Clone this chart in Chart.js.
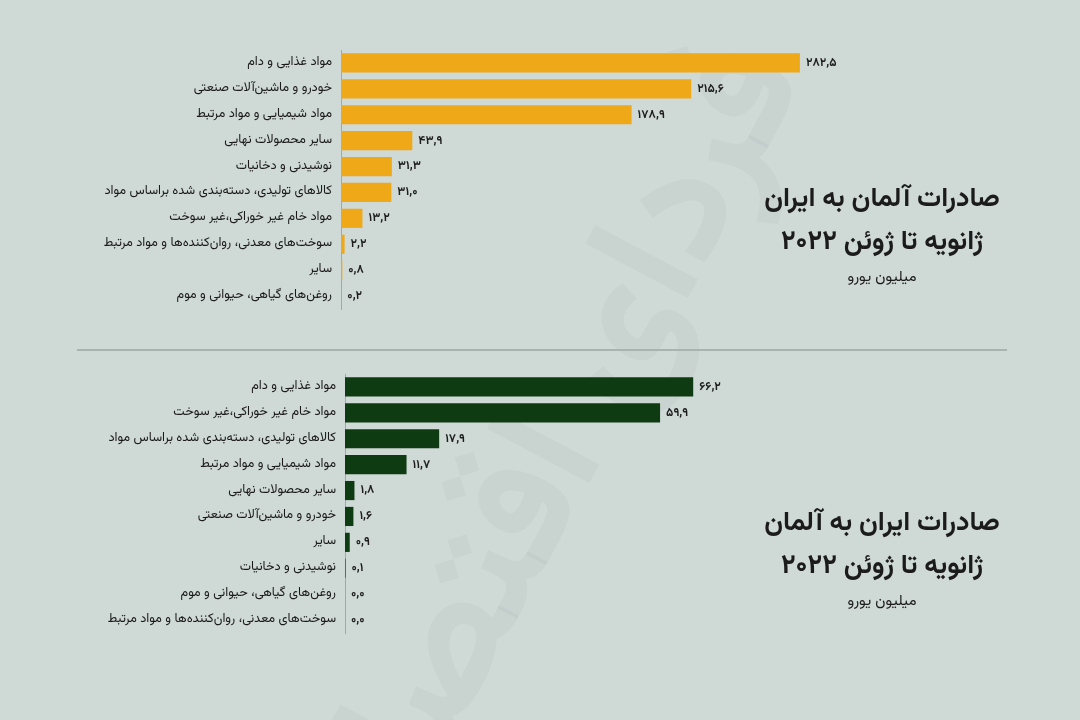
<!DOCTYPE html>
<html lang="fa">
<head>
<meta charset="utf-8">
<script src="https://cdn.jsdelivr.net/npm/chart.js@4.4.1/dist/chart.umd.min.js"></script>
<style>
  html, body { margin: 0; padding: 0; }
  body {
    width: 1080px; height: 720px; position: relative; overflow: hidden;
    background: #cfd9d6;
    font-family: 'Vazirmatn', 'Noto Sans Arabic', 'DejaVu Sans', sans-serif;
  }
  .chart-box { position: absolute; left: 0; width: 1080px; }
  #box-top { top: 1px; height: 350px; }
  #box-bottom { top: 351px; height: 369px; }
  .divider { position: absolute; left: 77px; top: 349px; width: 930px; height: 2px; background: #a9b4b0; }
  .title { position: absolute; width: 300px; text-align: center; direction: rtl; color: #1b1b1b; }
  .title .t1 { font-size: 27px; font-weight: bold; line-height: 43px; }
  .title .t2 { font-size: 15px; line-height: 24px; margin-top: 2px; }
  .watermark {
    position: absolute; left: 560px; top: 450px; font-size: 170px; font-weight: bold;
    color: rgba(80, 100, 95, 0.045); transform: translate(-50%, -50%) rotate(-62deg);
    direction: rtl; white-space: nowrap;
  }
</style>
</head>
<body>
<div class="watermark">فردای اقتصاد</div>
<div class="chart-box" id="box-top"><canvas id="topChart"></canvas></div>
<div class="chart-box" id="box-bottom"><canvas id="bottomChart"></canvas></div>
<div class="divider"></div>

<div class="title" style="left:732px; top:178px;">
  <div class="t1">صادرات آلمان به ایران</div>
  <div class="t1">ژانویه تا ژوئن ۲۰۲۲</div>
  <div class="t2">میلیون یورو</div>
</div>
<div class="title" style="left:732px; top:502px;">
  <div class="t1">صادرات ایران به آلمان</div>
  <div class="t1">ژانویه تا ژوئن ۲۰۲۲</div>
  <div class="t2">میلیون یورو</div>
</div>

<script>
// Germany -> Iran, Jan-Jun 2022 (million EUR)
const deCategories = [
  'مواد غذایی و دام',
  'خودرو و ماشین‌آلات صنعتی',
  'مواد شیمیایی و مواد مرتبط',
  'سایر محصولات نهایی',
  'نوشیدنی و دخانیات',
  'کالاهای تولیدی، دسته‌بندی شده براساس مواد',
  'مواد خام غیر خوراکی،غیر سوخت',
  'سوخت‌های معدنی، روان‌کننده‌ها و مواد مرتبط',
  'سایر',
  'روغن‌های گیاهی، حیوانی و موم'
];
const deValues = [282.5, 215.6, 178.9, 43.9, 31.3, 31.0, 13.2, 2.2, 0.8, 0.2];

// Iran -> Germany, Jan-Jun 2022 (million EUR)
const irCategories = [
  'مواد غذایی و دام',
  'مواد خام غیر خوراکی،غیر سوخت',
  'کالاهای تولیدی، دسته‌بندی شده براساس مواد',
  'مواد شیمیایی و مواد مرتبط',
  'سایر محصولات نهایی',
  'خودرو و ماشین‌آلات صنعتی',
  'سایر',
  'نوشیدنی و دخانیات',
  'روغن‌های گیاهی، حیوانی و موم',
  'سوخت‌های معدنی، روان‌کننده‌ها و مواد مرتبط'
];
const irValues = [66.2, 59.9, 17.9, 11.7, 1.8, 1.6, 0.9, 0.1, 0.0, 0.0];

const FONT = "'Vazirmatn', 'Noto Sans Arabic', 'DejaVu Sans', sans-serif";
const faDigits = '۰۱۲۳۴۵۶۷۸۹';
function toFa(v) {
  return v.toFixed(1).replace(/\d/g, d => faDigits[d]).replace('.', ',');
}

// draws the value right after each bar end
const valueLabels = {
  id: 'valueLabels',
  afterDatasetsDraw(chart) {
    const ctx = chart.ctx;
    const meta = chart.getDatasetMeta(0);
    ctx.save();
    ctx.font = 'bold 12px ' + FONT;
    ctx.fillStyle = '#1e1e1e';
    ctx.textAlign = 'left';
    ctx.textBaseline = 'middle';
    meta.data.forEach((bar, i) => {
      const v = chart.data.datasets[0].data[i];
      ctx.fillText(toFa(v), bar.x + 6, bar.y + 1);
    });
    ctx.restore();
  }
};

function makeChart(id, labels, values, color, xMax, pad) {
  const ctx = document.getElementById(id).getContext('2d');
  return new Chart(ctx, {
    type: 'bar',
    data: {
      labels: labels,
      datasets: [{
        data: values,
        backgroundColor: color,
        borderWidth: 0,
        categoryPercentage: 1,
        barPercentage: 0.74
      }]
    },
    options: {
      indexAxis: 'y',
      responsive: true,
      maintainAspectRatio: false,
      animation: false,
      layout: { padding: pad },
      plugins: {
        legend: { display: false },
        tooltip: { enabled: false }
      },
      scales: {
        x: {
          display: false,
          min: 0,
          max: xMax
        },
        y: {
          afterFit: (scale) => { scale.width = pad.axisX; },
          grid: { display: false, drawTicks: false },
          border: { display: true, color: '#9fa9a6', width: 1 },
          ticks: {
            color: '#1a1a1a',
            padding: 9,
            font: { size: 12.8, family: FONT }
          }
        }
      }
    },
    plugins: [valueLabels]
  });
}

makeChart('topChart', deCategories, deValues, '#efa817', 450,
  { top: 49, bottom: 42, left: 0, right: 8, axisX: 341 });
makeChart('bottomChart', irCategories, irValues, '#0f3b12', 100,
  { top: 23, bottom: 87, left: 0, right: 209, axisX: 345 });
</script>
</body>
</html>
